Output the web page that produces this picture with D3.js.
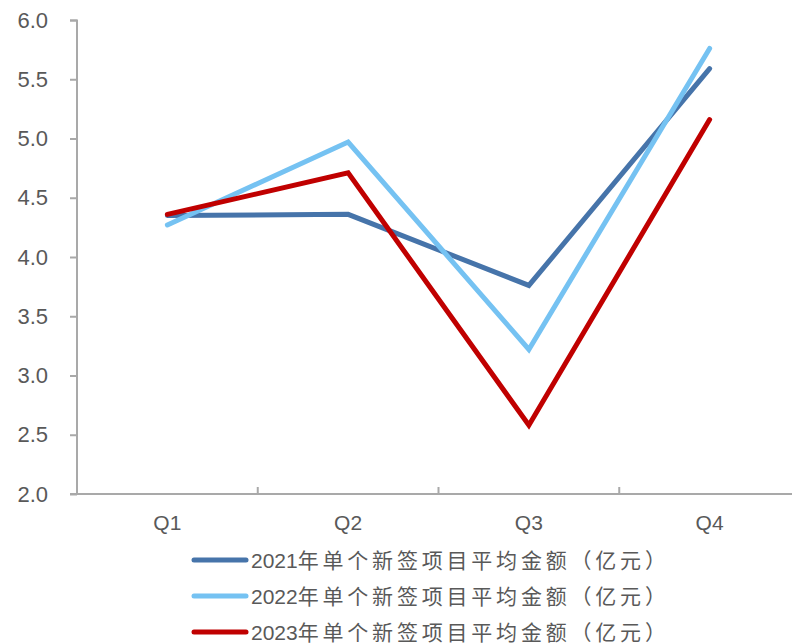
<!DOCTYPE html>
<html>
<head>
<meta charset="utf-8">
<script src="https://cdn.jsdelivr.net/npm/d3@7/dist/d3.min.js"></script>
<style>
  html, body { margin: 0; padding: 0; background: #fff; }
  svg { display: block; }
</style>
</head>
<body>
<svg id="chart" width="792" height="644"></svg>
<script>
// Quarterly average value per newly signed project (100 million yuan)
const quarters = ["Q1", "Q2", "Q3", "Q4"];
const years = ["2021", "2022", "2023"];
const values2021 = [4.35, 4.36, 3.76, 5.59];
const values2022 = [4.27, 4.97, 3.22, 5.76];
const values2023 = [4.36, 4.71, 2.58, 5.16];
const yTicks = [2.0, 2.5, 3.0, 3.5, 4.0, 4.5, 5.0, 5.5, 6.0];
const labelSuffix = "年单个新签项目平均金额（亿元）";
const colors = ["#4674AA", "#75C2F2", "#C00000"];

const seriesValues = [values2021, values2022, values2023];

const svg = d3.select("#chart");
const axisColor = "#A9A9A9";
const textColor = "#595959";
const fontFamily = "'Liberation Sans', Arial, 'Noto Sans CJK SC', sans-serif";

const x = d3.scaleBand().domain(quarters).range([77, 800]);
const y = d3.scaleLinear().domain([2, 6]).range([494, 20]);

// Y axis
const yAxis = svg.append("g").attr("transform", "translate(77,0)")
  .call(d3.axisLeft(y).tickValues(yTicks).tickFormat(d3.format(".1f")).tickSize(7).tickPadding(22));
yAxis.select(".domain").attr("stroke", axisColor).attr("stroke-width", 2).attr("d", "M-7,20.5H0V494");
yAxis.selectAll(".tick line").attr("stroke", axisColor).attr("stroke-width", 2);
yAxis.selectAll(".tick text").attr("fill", textColor).attr("font-size", 22).attr("font-family", fontFamily);

// X axis with tick marks on category boundaries
const xAxis = svg.append("g").attr("transform", "translate(0,494)");
xAxis.append("line").attr("x1", 70).attr("x2", 792).attr("y1", 0).attr("y2", 0)
  .attr("stroke", axisColor).attr("stroke-width", 2);
xAxis.selectAll(".bound").data(quarters.slice(1)).join("line")
  .attr("x1", d => x(d)).attr("x2", d => x(d)).attr("y1", 0).attr("y2", -7)
  .attr("stroke", axisColor).attr("stroke-width", 2);
xAxis.selectAll(".qlabel").data(quarters).join("text")
  .attr("x", d => x(d) + x.bandwidth() / 2).attr("y", 36)
  .attr("text-anchor", "middle").attr("fill", textColor)
  .attr("font-size", 21).attr("font-family", fontFamily).text(d => d);

// Series lines
const line = d3.line()
  .x((d, i) => x(quarters[i]) + x.bandwidth() / 2)
  .y(d => y(d));
svg.selectAll(".series").data(seriesValues).join("path")
  .attr("d", d => line(d)).attr("fill", "none")
  .attr("stroke", (d, i) => colors[i]).attr("stroke-width", 5)
  .attr("stroke-linecap", "round").attr("stroke-linejoin", "miter");

// Legend
const legend = svg.append("g");
years.forEach((yr, i) => {
  const cy = 560 + i * 36;
  legend.append("line").attr("x1", 194).attr("x2", 246).attr("y1", cy).attr("y2", cy)
    .attr("stroke", colors[i]).attr("stroke-width", 5).attr("stroke-linecap", "round");
  const t = legend.append("text").attr("x", 251).attr("y", cy + 8)
    .attr("fill", textColor).attr("font-size", 21).attr("font-family", fontFamily);
  t.append("tspan").text(yr);
  t.append("tspan").attr("letter-spacing", 3.8).text(labelSuffix);
});
</script>
</body>
</html>
